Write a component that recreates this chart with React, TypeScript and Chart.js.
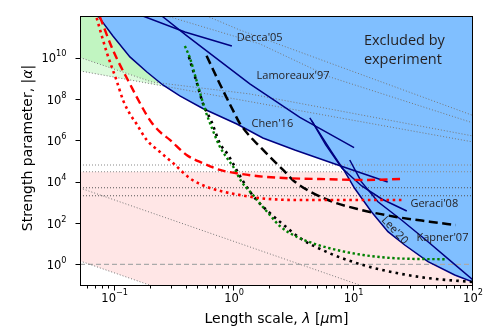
import { useEffect, useRef } from 'react';
import { Chart, registerables } from 'chart.js';

Chart.register(...registerables);

type P = [number, number];

// ---- axes ----
const xRange: [number, number] = [0.0512, 100];
const yRange: [number, number] = [0.089, 1.05e12];
const xMajorTicks = [0.1, 1, 10, 100];
const xTickExponents = ['\u22121', '0', '1', '2'];
const yMajorTicks = [1, 1e2, 1e4, 1e6, 1e8, 1e10];
const yTickExponents = ['0', '2', '4', '6', '8', '10'];

// ---- experimental bounds (navy) ----
const decca05: P[] = [[0.172, 1.05e12], [0.387, 1.78e11], [0.957, 3.7e10]];
const lamoreaux97: P[] = [[0.248, 1.05e12], [0.40, 1.18e11], [1.353, 5.4e8], [3.55, 1.31e7], [10.1, 4.43e5]];
const chen16: P[] = [
  [0.0724, 1.06e12], [0.0966, 1.14e11], [0.134, 1.1e10], [0.186, 2.05e9], [0.253, 4.8e8], [0.351, 1.41e8],
  [0.547, 3.5e7], [1.053, 6.2e6], [1.74, 1.31e6], [3.22, 3.43e5], [7.38, 6.44e4], [19.3, 9.7e3],
];
const geraci08: P[] = [[4.47, 8.7e6], [5.85, 6.0e5], [7.97, 4.6e4], [11.7, 6.2e3], [17.2, 1.45e3], [27.9, 381]];
const kapner07: P[] = [[9.29, 1.12e5], [11.6, 1.0e4], [16.0, 1.07e3], [25.2, 140], [42.0, 12.4], [65.9, 1.34], [100, 0.174]];
const lee20: P[] = [
  [4.30, 1.22e7], [6.53, 2.84e5], [8.44, 3.05e4], [10.2, 4.79e3], [14.1, 352], [19.4, 37.9],
  [26.8, 8.6], [42.0, 1.34], [70.3, 0.303], [100, 0.139],
];

// ---- projected sensitivities ----
const redDashed: P[] = [
  [0.0752, 9.5e11], [0.0971, 2.2e10], [0.134, 5.4e8], [0.185, 1.7e7], [0.205, 7.0e6], [0.238, 2.64e6],
  [0.29, 1.05e6], [0.40, 1.96e5], [0.55, 7.8e4], [0.76, 3.7e4], [1.05, 2.55e4], [1.75, 1.75e4],
  [2.92, 1.46e4], [6.32, 1.31e4], [11.9, 1.21e4], [25.9, 1.35e4],
];
const redDotted: P[] = [
  [0.0706, 8.5e11], [0.0855, 1.91e10], [0.1037, 7.8e8], [0.1178, 8.4e7], [0.134, 1.9e7], [0.1525, 6.2e6],
  [0.185, 1.05e6], [0.238, 2.84e5], [0.309, 7.8e4], [0.426, 1.46e4], [0.587, 5.7e3], [0.809, 3.28e3],
  [1.116, 2.27e3], [1.74, 1.54e3], [3.33, 1.3e3], [25.8, 1.3e3],
];
const greenDotted: P[] = [
  [0.3867, 3.7e10], [0.426, 9.8e9], [0.4845, 7.8e8], [0.5686, 3.3e7], [0.6507, 4.0e6], [0.759, 4.95e5],
  [0.864, 1.49e5], [0.981, 5.3e4], [1.153, 1.0e4], [1.398, 2.74e3], [1.641, 900], [1.99, 244],
  [2.41, 71.6], [3.33, 21.7], [4.58, 10.4], [6.32, 5.96], [12.0, 2.82], [22.9, 1.95], [59.9, 1.75],
];
const blackDotted: P[] = [
  [0.4177, 1.09e10], [0.4845, 6.7e8], [0.55, 5.8e7], [0.647, 8.05e6], [0.759, 7.2e5], [0.891, 1.96e5],
  [1.047, 3.69e4], [1.27, 5.7e3], [1.54, 1.3e3], [1.99, 305], [2.66, 71.6], [3.55, 18.8],
  [6.32, 3.41], [12.0, 0.925], [22.9, 0.379], [43.4, 0.21], [100, 0.139],
];
const blackDashed: P[] = [
  [0.5875, 1.26e10], [0.759, 5.4e8], [0.981, 2.74e7], [1.116, 6.6e6], [1.748, 3.43e5], [2.57, 3.69e4],
  [3.22, 1.0e4], [6.12, 1.3e3], [11.65, 426], [22.1, 202], [43.4, 116], [71.7, 80],
];

// ---- theory lines (grey dotted) ----
const theoryP: P[] = [[0.5875, 1.06e12], [1.116, 2.2e11], [100, 1.6e7]];
const theoryQ: P[] = [[0.272, 1.06e12], [1.64, 4.7e10], [6.32, 1.18e9], [100, 7.0e6]];
const theoryL1: P[] = [[0.0512, 1.03e10], [0.2048, 6.7e8], [1.353, 1.77e8], [100, 1.63e6]];
const theoryL2: P[] = [[0.0512, 2.3e9], [100, 8.4e5]];
const theoryA: P[] = [[0.0512, 4.95e3], [12.5, 0.08]];
const theoryB: P[] = [[0.0512, 1.45], [0.3, 0.042]];
const horizontalLevels = [6.4e4, 3.05e4, 5.1e3, 2.1e3];
const unityLevel = 1;

// ---- labels ----
const annotations = [
  { text: "Decca'05", at: [1.053, 9.1e10], size: 11, rot: 0, align: 'left' },
  { text: "Lamoreaux'97", at: [1.54, 1.36e9], size: 11, rot: 0, align: 'left' },
  { text: "Chen'16", at: [1.40, 6.2e6], size: 11, rot: 0, align: 'left' },
  { text: "Geraci'08", at: [29.9, 805], size: 11, rot: 0, align: 'left' },
  { text: "Kapner'07", at: [33.6, 18.2], size: 11, rot: 0, align: 'left' },
  { text: "Lee'20", at: [22.1, 43.3], size: 11, rot: 47, align: 'center' },
  { text: 'Excluded by', at: [12.2, 6.7e10], size: 14.5, rot: 0, align: 'left' },
  { text: 'experiment', at: [12.2, 7.8e9], size: 14.5, rot: 0, align: 'left' },
];

// ---- helpers ----
function logInterp(curve: P[], x: number): number | null {
  if (x < curve[0][0] || x > curve[curve.length - 1][0]) return null;
  for (let i = 0; i < curve.length - 1; i++) {
    const [x0, y0] = curve[i];
    const [x1, y1] = curve[i + 1];
    if (x >= x0 && x <= x1) {
      const t = (Math.log(x) - Math.log(x0)) / (Math.log(x1) - Math.log(x0) || 1);
      return Math.exp(Math.log(y0) + t * (Math.log(y1) - Math.log(y0)));
    }
  }
  return null;
}

function lowerEnvelope(curves: P[][]): P[] {
  const xs = new Set<number>();
  curves.forEach((c) => c.forEach((p) => xs.add(p[0])));
  const lo = Math.min(...curves.map((c) => c[0][0]));
  const hi = Math.max(...curves.map((c) => c[c.length - 1][0]));
  const n = 500;
  for (let i = 0; i <= n; i++) xs.add(Math.exp(Math.log(lo) + ((Math.log(hi) - Math.log(lo)) * i) / n));
  return [...xs]
    .sort((a, b) => a - b)
    .map((x) => {
      const vals = curves.map((c) => logInterp(c, x)).filter((v) => v !== null) as number[];
      return [x, Math.min(...vals)] as P;
    });
}

const toXY = (arr: P[]) => arr.map(([x, y]) => ({ x, y }));
const level = (v: number): P[] => [[xRange[0], v], [xRange[1], v]];

const NONE = 'rgba(0,0,0,0)';
const fillDs = (data: P[], fill: any, color: string, order: number) => ({
  data: toXY(data), fill, backgroundColor: color, borderColor: NONE, borderWidth: 0,
  pointRadius: 0, pointHoverRadius: 0, order,
});
const lineDs = (data: P[], color: string, width: number, dash: number[], order: number, smooth: boolean) => ({
  data: toXY(data), fill: false, borderColor: color, borderWidth: width, borderDash: dash,
  pointRadius: 0, pointHoverRadius: 0, order,
  tension: 0, cubicInterpolationMode: smooth ? 'monotone' : 'default',
});

function buildDatasets() {
  const excluded = lowerEnvelope([chen16, lee20]);
  const ds: any[] = [];
  ds.push(fillDs(level(horizontalLevels[1]), 'start', '#ffe6e6', 100)); // 0 pink band
  ds.push(fillDs(theoryB, 'start', '#ffffff', 99)); // 1 white below B
  ds.push(fillDs(theoryL2, false, NONE, 98)); // 2 target for light green
  ds.push(fillDs(theoryL1, 2, '#dcfadc', 97)); // 3 light green band
  ds.push(fillDs(theoryL1, 'end', '#c1f5c1', 96)); // 4 green region
  ds.push(fillDs(excluded, 'end', '#80bfff', 95)); // 5 excluded region

  const grey = '#777777';
  const gd = [1, 2];
  [theoryP, theoryQ, theoryL1, theoryL2, theoryA, theoryB].forEach((l) => ds.push(lineDs(l, grey, 1, gd, 60, false)));
  horizontalLevels.forEach((v, i) => ds.push(lineDs(level(v), i < 2 ? '#8a8a8a' : '#555555', 1.1, gd, 60, false)));
  ds.push(lineDs(level(unityLevel), '#aaaaaa', 1.3, [5, 3], 60, false));

  const navy = '#000080';
  [decca05, lamoreaux97, chen16, geraci08, kapner07, lee20].forEach((l) => ds.push(lineDs(l, navy, 1.5, [], 40, false)));

  ds.push(lineDs(blackDotted, '#000000', 2.6, [2.6, 4.2], 30, true));
  ds.push(lineDs(greenDotted, '#008000', 2.4, [2.4, 2.6], 28, true));
  ds.push(lineDs(blackDashed, '#000000', 2.5, [9, 4.5], 26, true));
  ds.push(lineDs(redDotted, '#ff0000', 2.6, [2.6, 3.6], 24, true));
  ds.push(lineDs(redDashed, '#ff0000', 2.4, [8, 4.5], 22, true));
  return ds;
}

function drawRich(ctx: CanvasRenderingContext2D, pieces: [string, boolean][], size: number, cx: number, cy: number) {
  const fam = '"DejaVu Sans"';
  let total = 0;
  const widths = pieces.map(([t, it]) => {
    ctx.font = `${it ? 'italic ' : ''}${size}px ${fam}`;
    const w = ctx.measureText(t).width;
    total += w;
    return w;
  });
  let x = cx - total / 2;
  pieces.forEach(([t, it], i) => {
    ctx.font = `${it ? 'italic ' : ''}${size}px ${fam}`;
    ctx.fillText(t, x, cy);
    x += widths[i];
  });
}

const axesPlugin = {
  id: 'mplAxes',
  afterDraw(chart: any) {
    const { ctx, chartArea: a } = chart;
    const xs = chart.scales.x;
    const ys = chart.scales.y;
    ctx.save();
    ctx.strokeStyle = '#000';
    ctx.fillStyle = '#000';
    ctx.lineWidth = 1;
    ctx.strokeRect(Math.round(a.left) + 0.5, Math.round(a.top) + 0.5, Math.round(a.right - a.left) - 1, Math.round(a.bottom - a.top) - 1);

    const bottom = Math.round(a.bottom) - 0.5;
    ctx.beginPath();
    xMajorTicks.forEach((v) => {
      const px = Math.round(xs.getPixelForValue(v)) - 0.5;
      ctx.moveTo(px, bottom);
      ctx.lineTo(px, bottom + 5);
    });
    for (let d = 0.01; d < 200; d *= 10) {
      for (let k = 2; k <= 9; k++) {
        const v = k * d;
        if (v < xRange[0] || v > xRange[1]) continue;
        const px = Math.round(xs.getPixelForValue(v)) - 0.5;
        ctx.moveTo(px, bottom);
        ctx.lineTo(px, bottom + 3);
      }
    }
    yMajorTicks.forEach((v) => {
      const py = Math.round(ys.getPixelForValue(v)) + 0.5;
      ctx.moveTo(a.left + 0.5, py);
      ctx.lineTo(a.left - 4.5, py);
    });
    ctx.stroke();

    const fam = '"DejaVu Sans"';
    const big = 11.5;
    const small = 8.2;
    ctx.textBaseline = 'alphabetic';
    ctx.textAlign = 'left';
    xMajorTicks.forEach((v, i) => {
      const px = xs.getPixelForValue(v);
      ctx.font = `${big}px ${fam}`;
      const w1 = ctx.measureText('10').width;
      ctx.font = `${small}px ${fam}`;
      const w2 = ctx.measureText(xTickExponents[i]).width;
      const x0 = px - (w1 + w2) / 2;
      ctx.font = `${big}px ${fam}`;
      ctx.fillText('10', x0, a.bottom + 15.5);
      ctx.font = `${small}px ${fam}`;
      ctx.fillText(xTickExponents[i], x0 + w1, a.bottom + 9);
    });
    yMajorTicks.forEach((v, i) => {
      const py = ys.getPixelForValue(v);
      ctx.font = `${big}px ${fam}`;
      const w1 = ctx.measureText('10').width;
      ctx.font = `${small}px ${fam}`;
      const w2 = ctx.measureText(yTickExponents[i]).width;
      const right = a.left - 13.5;
      const x0 = right - w1 - w2;
      ctx.font = `${big}px ${fam}`;
      ctx.fillText('10', x0, py + 4.6);
      ctx.font = `${small}px ${fam}`;
      ctx.fillText(yTickExponents[i], x0 + w1, py - 1.4);
    });

    drawRich(ctx, [['Length scale, ', false], ['\u03bb', true], [' [', false], ['\u03bc', true], ['m]', false]], 14, (a.left + a.right) / 2, a.bottom + 37);
    ctx.save();
    ctx.translate(31.5, (a.top + a.bottom) / 2 - 3);
    ctx.rotate(-Math.PI / 2);
    drawRich(ctx, [['Strength parameter, ', false], ['|', false], ['\u03b1', true], ['|', false]], 14, 0, 0);
    ctx.restore();
    ctx.restore();
  },
};

const labelsPlugin = {
  id: 'curveLabels',
  afterDatasetsDraw(chart: any) {
    const { ctx } = chart;
    const xs = chart.scales.x;
    const ys = chart.scales.y;
    ctx.save();
    ctx.fillStyle = '#231f20';
    ctx.textBaseline = 'middle';
    annotations.forEach((an) => {
      const px = xs.getPixelForValue(an.at[0]);
      const py = ys.getPixelForValue(an.at[1]);
      ctx.font = `${an.size}px "Open Sans"`;
      ctx.textAlign = an.align as CanvasTextAlign;
      ctx.save();
      ctx.translate(px, py);
      ctx.rotate((an.rot * Math.PI) / 180);
      ctx.fillText(an.text, 0, 0);
      ctx.restore();
    });
    ctx.restore();
  },
};

export default function App() {
  const ref = useRef<HTMLCanvasElement>(null);
  useEffect(() => {
    if (!ref.current) return;
    const chart = new Chart(ref.current, {
      type: 'line',
      data: { datasets: buildDatasets() },
      options: {
        responsive: false,
        maintainAspectRatio: false,
        devicePixelRatio: 1,
        animation: false,
        events: [],
        layout: { padding: { left: 80, top: 16, right: 25, bottom: 46 } },
        plugins: { legend: { display: false }, tooltip: { enabled: false } },
        scales: {
          x: { type: 'logarithmic', min: xRange[0], max: xRange[1], display: false },
          y: { type: 'logarithmic', min: yRange[0], max: yRange[1], display: false },
        },
      } as any,
      plugins: [axesPlugin, labelsPlugin],
    });
    return () => chart.destroy();
  }, []);
  return (
    <div style={{ position: 'fixed', left: 0, top: 0, width: 498, height: 332, background: '#ffffff' }}>
      <canvas ref={ref} width={498} height={332} style={{ display: 'block', width: '498px', height: '332px' }} />
    </div>
  );
}
